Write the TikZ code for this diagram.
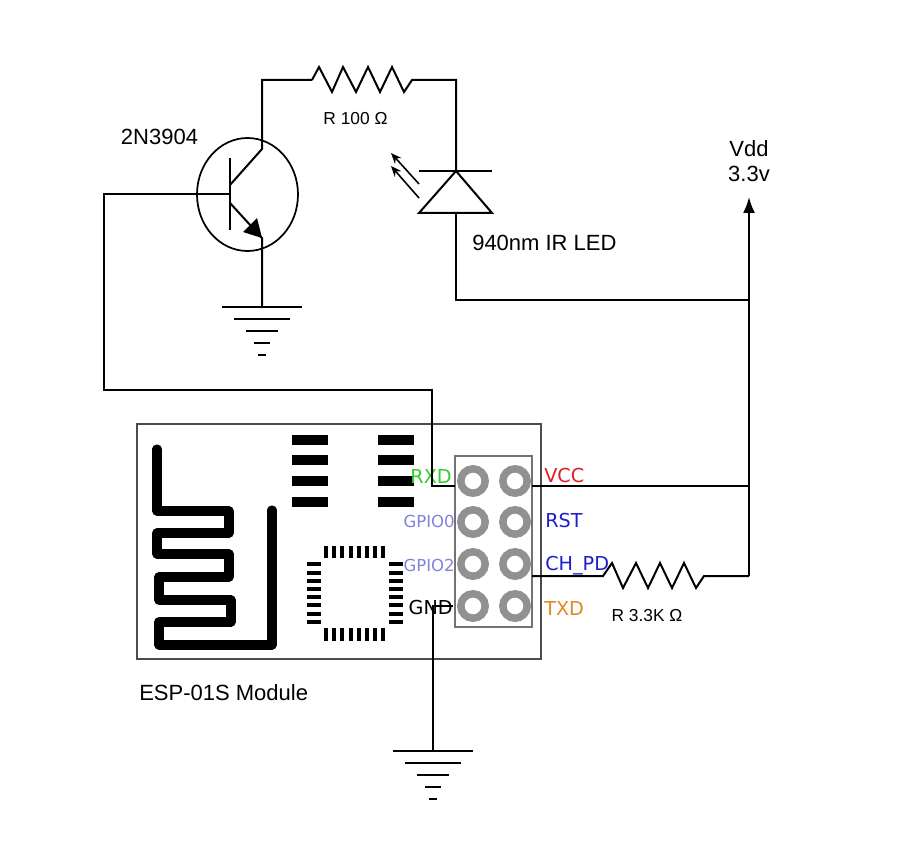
\documentclass[tikz,border=0pt]{standalone}
\usepackage{fontspec}
\setmainfont{Liberation Sans}
\newfontfamily\pinfont{DejaVu Sans}
\usetikzlibrary{arrows.meta}
\definecolor{pingreen}{RGB}{50,205,50}
\definecolor{pinlilac}{RGB}{130,130,220}
\definecolor{pinblue}{RGB}{30,30,205}
\definecolor{pinred}{RGB}{220,30,40}
\definecolor{pinorange}{RGB}{225,135,35}
\definecolor{ringgray}{RGB}{145,145,145}
\tikzset{
  wire/.style={line width=1.5pt,color=black},
  thinwire/.style={line width=1.2pt,color=black},
  antenna/.style={line width=6.8pt,color=black,line join=round,line cap=round},
  label/.style={inner sep=0pt,font=\fontsize{16.5}{19}\selectfont},
  rlabel/.style={inner sep=0pt,font=\fontsize{13}{15}\selectfont},
  pinlabel/.style={inner sep=0pt,font=\pinfont\fontsize{14.4}{16}\selectfont},
  gpiolabel/.style={inner sep=0pt,font=\pinfont\fontsize{12.4}{14}\selectfont,color=pinlilac},
}
\begin{document}
\begin{tikzpicture}[x=0.75pt,y=-0.75pt]
\useasboundingbox (0,0) rectangle (909,841);
% module board
\draw [line width=0.9pt,color=black!70] (137,424) rectangle (541,659);
\draw [antenna] (157,449)--(157,511)--(229,511)--(229,533)--(157,533)--(157,554)--(229,554)--(229,577)--(159,577)--(159,600)--(231,600)--(231,622)--(159,622)--(159,645)--(272,645)--(272,510);
\foreach \x in {292,378} \foreach \y in {440,460,481,502}
  \fill [black] (\x,\y-5) rectangle (\x+36,\y+5);
\foreach \i in {0,...,7} {
  \fill [black] (326+8.2*\i-2,546) rectangle (326+8.2*\i+2,558);
  \fill [black] (326+8.2*\i-2,628) rectangle (326+8.2*\i+2,641);
  \fill [black] (307,564.3+8.2*\i-2) rectangle (321,564.3+8.2*\i+2);
  \fill [black] (389,564.3+8.2*\i-2) rectangle (403,564.3+8.2*\i+2);
}
% header
\draw [line width=1.3pt,color=black!55] (455,456) rectangle (532,627);
\foreach \x in {473,515} \foreach \y in {481,522,564,606}
  \draw [line width=5.6pt,color=ringgray] (\x,\y) circle (12.2);
% pin names
\node [pinlabel,color=pingreen,anchor=east] (rxd) at (452,476) {RXD};
\node [gpiolabel,anchor=east] (gpiozero) at (455,521) {GPIO0};
\node [gpiolabel,anchor=east] (gpiotwo) at (455,565) {GPIO2};
\node [pinlabel,color=black,anchor=east] (gnd) at (453,608) {GND};
\node [pinlabel,color=pinred,anchor=west] (vcc) at (544,476) {VCC};
\node [pinlabel,color=pinblue,anchor=west] (rst) at (545,521) {RST};
\node [pinlabel,color=pinblue,anchor=west] (chpd) at (545,565.5) {CH\_PD};
\node [pinlabel,color=pinorange,anchor=west] (txd) at (544,608) {TXD};
% junctions
\coordinate (basebar) at (230,194);
\coordinate (baseleft) at (104,194);
\coordinate (basedown) at (104,390);
\coordinate (rxdtop) at (432,390);
\coordinate (rxdcorner) at (432,486);
\coordinate (rxdpin) at (455,486);
\coordinate (colbend) at (262,149);
\coordinate (coltop) at (262,80);
\coordinate (rAin) at (312,80);
\coordinate (rAout) at (412,80);
\coordinate (ledtop) at (456,80);
\coordinate (cathode) at (456,171);
\coordinate (anode) at (456,213);
\coordinate (ledcorner) at (456,300);
\coordinate (rail) at (749,300);
\coordinate (railvcc) at (749,486);
\coordinate (railbot) at (749,576);
\coordinate (vddtip) at (749,197);
\coordinate (vccpin) at (532,486);
\coordinate (chpin) at (532,576);
\coordinate (rBin) at (603,576);
\coordinate (rBout) at (704,576);
\coordinate (embend) at (262,238);
\coordinate (gndA) at (262,307);
\coordinate (gndpin) at (453,606);
\coordinate (gndcorner) at (433,606);
\coordinate (gndB) at (433,751);
% transistor
\draw [line width=1.3pt,color=black] (247.5,194.5) ellipse (50.5 and 56.5);
\draw [wire] (230,158)--(230,230);
\draw [wire] (basebar)--(baseleft)--(basedown)--(rxdtop)--(rxdcorner)--(rxdpin);
\draw [wire] (230,185)--(colbend)--(coltop)--(rAin);
\draw [wire] (230,203)--(embend)--(gndA);
\fill [black] (257,218)--(243,232)--(embend)--cycle;
% resistors
\draw [wire] (rAin)--(319,67)--(332,92)--(343,67)--(356,92)--(368,67)--(380,92)--(392,67)--(404,92)--(rAout)--(ledtop)--(cathode);
\draw [wire] (chpin)--(rBin)--(612,563)--(623,588)--(636,563)--(648,588)--(660,563)--(672,588)--(684,563)--(696,588)--(rBout)--(railbot);
% led
\draw [wire] (419,171)--(492,171);
\draw [wire,line join=miter] (cathode)--(492,213)--(419,213)--cycle;
\draw [wire] (anode)--(ledcorner)--(rail);
\draw [thinwire,-{Stealth[length=8pt,width=6.5pt]}] (419,184)--(391,153);
\draw [thinwire,-{Stealth[length=8pt,width=6.5pt]}] (419,198)--(391,166);
% supply
\draw [wire] (railbot)--(rail);
\draw [wire,-{Latex[length=12pt,width=9pt]}] (rail)--(vddtip);
\draw [wire] (vccpin)--(railvcc);
% grounds
\draw [wire] (gndpin)--(gndcorner)--(gndB);
\foreach \g/\x/\y in {a/262/307,b/433/751} {
  \draw [wire] (\x-40,\y)--(\x+40,\y);
  \draw [wire] (\x-28,\y+12)--(\x+28,\y+12);
  \draw [wire] (\x-16,\y+24)--(\x+16,\y+24);
  \draw [wire] (\x-8,\y+36)--(\x+8,\y+36);
  \draw [wire] (\x-4,\y+48)--(\x+4,\y+48);
}
% labels
\node [label] (partname) at (159.5,137) {2N3904};
\node [rlabel] (rAname) at (355.5,119) {R 100 Ω};
\node [label,anchor=west] (ledname) at (472,243) {940nm IR LED};
\node [label] (vddname) at (749,149) {Vdd};
\node [label] (vddvalue) at (749,174) {3.3v};
\node [rlabel] (rBname) at (647,616) {R 3.3K Ω};
\node [label,anchor=west] (modname) at (139,693) {ESP-01S Module};
\end{tikzpicture}
\end{document}
